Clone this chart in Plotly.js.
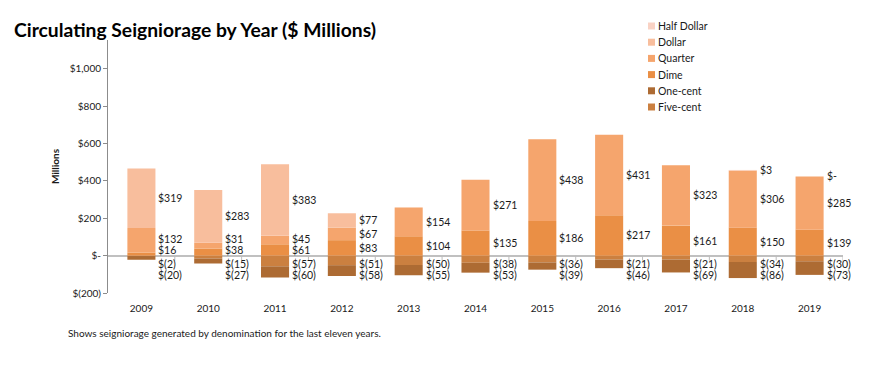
<!DOCTYPE html>
<html>
<head>
<meta charset="utf-8">
<script src="https://cdn.plot.ly/plotly-3.0.1.min.js"></script>
<style>html,body{margin:0;padding:0;background:#fff}#chart{width:894px;height:366px}</style>
</head>
<body>
<div id="chart"></div>
<script>
const years = ['2009','2010','2011','2012','2013','2014','2015','2016','2017','2018','2019'];
const halfDollar = [null, null, null, null, null, null, null, null, null, 3, 0];
const dollar = [319, 283, 383, 77, null, null, null, null, null, null, null];
const quarter = [132, 31, 45, 67, 154, 271, 438, 431, 323, 306, 285];
const dime = [16, 38, 61, 83, 104, 135, 186, 217, 161, 150, 139];
const fiveCent = [-2, -15, -57, -51, -50, -38, -36, -21, -21, -34, -30];
const oneCent = [-20, -27, -60, -58, -55, -53, -39, -46, -69, -86, -73];
const yTickVals = [-200, 0, 200, 400, 600, 800, 1000];
const yTickText = ['$(200)', '$-', '$200', '$400', '$600', '$800', '$1,000'];

const FONT = 'Lato, "Open Sans", sans-serif';
const W = 894, H = 366;
const M = {l: 108, r: 51, t: 40, b: 73};
const yRange = [-200, 1155];
const xRange = [-0.5, years.length - 0.5];
const plotW = W - M.l - M.r;
const plotH = H - M.t - M.b;
const pxPerUnit = plotH / (yRange[1] - yRange[0]);

const colors = {
  half: '#F9D2C4',
  dollar: '#F8BE9D',
  quarter: '#F5A56D',
  dime: '#EA8F45',
  one: '#AD6B33',
  five: '#CB8040'
};

function fmt(v) {
  if (v === 0) return '$-';
  if (v < 0) return '$(' + (-v) + ')';
  return '$' + v;
}

function bar(name, vals, color) {
  return {type: 'bar', name: name, x: years, y: vals, showlegend: false,
    marker: {color: color, line: {width: 0}}, hoverinfo: 'skip'};
}

const traces = [
  bar('Five-cent', fiveCent, colors.five),
  bar('One-cent', oneCent, colors.one),
  bar('Dime', dime, colors.dime),
  bar('Quarter', quarter, colors.quarter),
  bar('Dollar', dollar, colors.dollar),
  bar('Half Dollar', halfDollar, colors.half)
];

const annotations = [];
const shapes = [];
const posSeries = [dime, quarter, dollar, halfDollar];
const negSeries = [fiveCent, oneCent];
const gapPx = 11;
function lab(idx, yv, v) {
  annotations.push({x: idx, y: yv, xref: 'x', yref: 'y', text: fmt(v),
    showarrow: false, xanchor: 'left', yanchor: 'middle', xshift: 16, borderpad: 0,
    font: {family: FONT, size: 10.5, color: '#1a1a1a'}});
}
years.forEach((yr, i) => {
  let base = 0, lastPx = -Infinity, first = true;
  posSeries.forEach(s => {
    const v = s[i];
    if (v === null || v === undefined) return;
    let cPx = (base + v / 2) * pxPerUnit;
    if (first) { cPx = Math.max(cPx, 6); first = false; }
    else cPx = Math.max(cPx, lastPx + gapPx);
    lastPx = cPx;
    base += v;
    lab(i, cPx / pxPerUnit, v);
  });
  let nbase = 0, nlast = Infinity, nfirst = true;
  negSeries.forEach(s => {
    const v = s[i];
    if (v === null || v === undefined) return;
    let cPx = (nbase + v / 2) * pxPerUnit;
    if (nfirst) { cPx = Math.min(cPx, -8); nfirst = false; }
    else cPx = Math.min(cPx, nlast - gapPx);
    nlast = cPx;
    nbase += v;
    lab(i, cPx / pxPerUnit, v);
  });
});

// small category-boundary tick marks hanging below the zero line
for (let k = 1; k <= years.length; k++) {
  shapes.push({type: 'line', xref: 'x', yref: 'y',
    x0: k - 0.5, x1: k - 0.5, y0: 0, y1: -5 / pxPerUnit, layer: 'above',
    line: {color: '#bdbdbd', width: 1}});
}

// legend (drawn in reverse trace order, like the stacked-column legend)
const legendTraces = traces.slice().reverse();
const legX = 648, legY0 = 26, legStep = 16.2, sw = 7;
legendTraces.forEach((t, k) => {
  const cy = legY0 + k * legStep;
  shapes.push({type: 'rect', xref: 'paper', yref: 'paper', layer: 'above',
    x0: (legX - M.l) / plotW, x1: (legX + sw - M.l) / plotW,
    y0: (H - M.b - (cy + sw / 2)) / plotH, y1: (H - M.b - (cy - sw / 2)) / plotH,
    fillcolor: t.marker.color, line: {width: 0}});
  annotations.push({text: t.name, xref: 'paper', yref: 'paper',
    x: (legX + sw + 2 - M.l) / plotW, y: (H - M.b - cy) / plotH,
    xanchor: 'left', yanchor: 'middle', showarrow: false, borderpad: 0,
    font: {family: FONT, size: 10.5, color: '#1a1a1a'}});
});

annotations.push({
  text: 'Shows seigniorage generated by denomination for the last eleven years.',
  xref: 'paper', yref: 'paper', x: (66 - M.l) / plotW, y: -(333 - (H - M.b)) / plotH,
  xanchor: 'left', yanchor: 'middle', showarrow: false,
  font: {family: FONT, size: 10, color: '#1a1a1a'}
});

const layout = {
  width: W, height: H,
  margin: M,
  paper_bgcolor: '#fff', plot_bgcolor: '#fff',
  font: {family: FONT, size: 10, color: '#1a1a1a'},
  title: {text: '<b>Circulating Seigniorage by Year ($ Millions)</b>', x: 14 / W, xanchor: 'left',
    xref: 'container', y: 1 - 30 / H, yanchor: 'middle', yref: 'container',
    font: {family: FONT, size: 19.3, color: '#000'}},
  barmode: 'relative',
  bargap: 0.58,
  showlegend: false,
  xaxis: {type: 'category', categoryorder: 'array', categoryarray: years, range: xRange,
    showline: false, ticks: '', showgrid: false, zeroline: false, ticklabelstandoff: 8,
    tickfont: {family: FONT, size: 10, color: '#1a1a1a'}},
  yaxis: {range: yRange, tickvals: yTickVals, ticktext: yTickText, showgrid: false,
    zeroline: true, zerolinecolor: '#c0c0c0', zerolinewidth: 2,
    showline: true, linecolor: '#8c8c8c', linewidth: 1, ticks: 'outside', ticklen: 4, tickcolor: '#8c8c8c',
    tickfont: {family: FONT, size: 10, color: '#1a1a1a'},
    title: {text: '<b>Millions</b>', font: {family: FONT, size: 10, color: '#1a1a1a'}, standoff: 8}},
  annotations: annotations,
  shapes: shapes
};

Plotly.newPlot('chart', traces, layout, {displayModeBar: false, staticPlot: true});
</script>
</body>
</html>
